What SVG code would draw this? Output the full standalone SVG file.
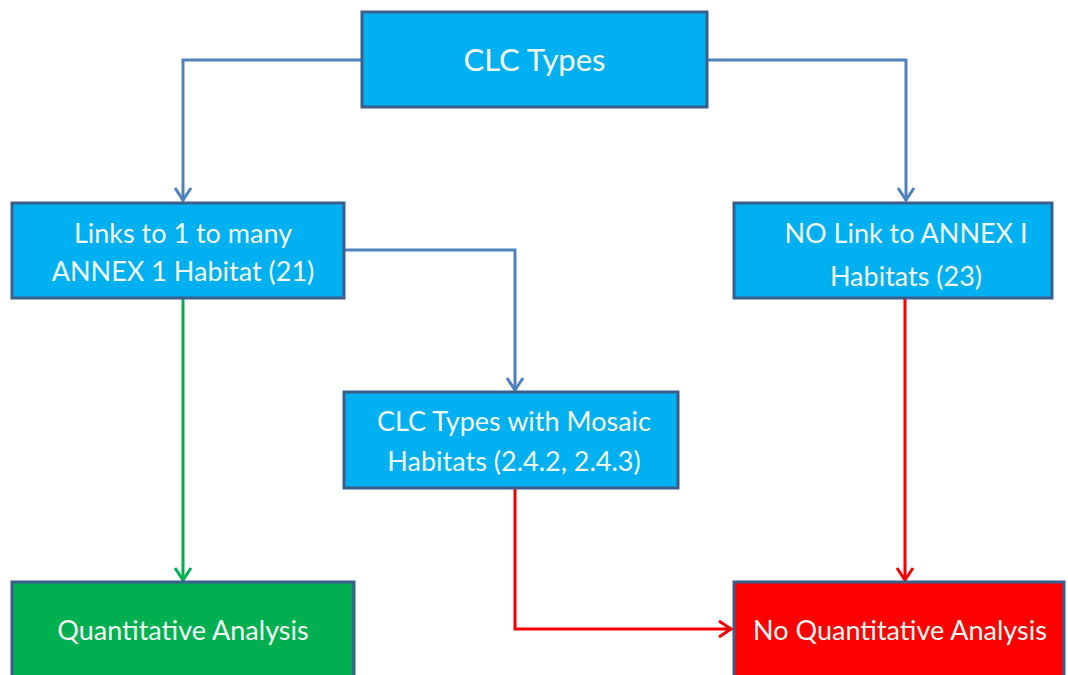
<svg xmlns="http://www.w3.org/2000/svg" width="1068" height="675" viewBox="0 0 1068 675">
  <style>
    .box { stroke: #3B5E8C; stroke-width: 3; }
    .blue { fill: #00B0F0; }
    .green { fill: #00B050; }
    .red { fill: #FF0000; }
    .lbl { font-family: Lato, "Open Sans", "Liberation Sans", sans-serif; font-size: 27px; fill: #F2F8F2; text-anchor: middle; }
    .big { font-size: 31px; }
    .conn { fill: none; stroke-width: 3; }
    .c-blue { stroke: #4F81BD; }
    .c-green { stroke: #00B050; }
    .c-red { stroke: #F00000; }
  </style>
  <defs>
    <marker id="ah-blue" viewBox="0 0 16 20" refX="15" refY="10" markerWidth="16" markerHeight="20" markerUnits="userSpaceOnUse" orient="auto">
      <path d="M2,2 L14,10 L2,18" fill="none" stroke="#4F81BD" stroke-width="3"/>
    </marker>
    <marker id="ah-green" viewBox="0 0 16 20" refX="15" refY="10" markerWidth="16" markerHeight="20" markerUnits="userSpaceOnUse" orient="auto">
      <path d="M2,2 L14,10 L2,18" fill="none" stroke="#00B050" stroke-width="3"/>
    </marker>
    <marker id="ah-red" viewBox="0 0 16 20" refX="15" refY="10" markerWidth="16" markerHeight="20" markerUnits="userSpaceOnUse" orient="auto">
      <path d="M2,2 L14,10 L2,18" fill="none" stroke="#F00000" stroke-width="3"/>
    </marker>
  </defs>
  <rect width="1068" height="675" fill="#FFFFFF"/>

  <!-- connectors -->
  <g id="connectors">
    <path class="conn c-blue" d="M362,60 H183 V201" marker-end="url(#ah-blue)"/>
    <path class="conn c-blue" d="M707,60 H906 V201" marker-end="url(#ah-blue)"/>
    <path class="conn c-blue" d="M344,250 H515 V391" marker-end="url(#ah-blue)"/>
    <path class="conn c-green" d="M183,298 V581" marker-end="url(#ah-green)"/>
    <path class="conn c-red" d="M905,298 V581" marker-end="url(#ah-red)"/>
    <path class="conn c-red" d="M515,488 V629 H732" marker-end="url(#ah-red)"/>
  </g>

  <!-- nodes -->
  <g id="clc-types">
    <rect class="box blue" x="362" y="12" width="345" height="95"/>
    <text class="lbl big" x="534.5" y="71">CLC Types</text>
  </g>
  <g id="links-annex">
    <rect class="box blue" x="12" y="203" width="332" height="95"/>
    <text class="lbl" x="183" y="243">Links to 1 to many</text>
    <text class="lbl" x="183" y="281">ANNEX 1 Habitat (21)</text>
  </g>
  <g id="no-link-annex">
    <rect class="box blue" x="734" y="203" width="318" height="95"/>
    <text class="lbl" x="906" y="243">NO Link to ANNEX I</text>
    <text class="lbl" x="906" y="286">Habitats (23)</text>
  </g>
  <g id="mosaic">
    <rect class="box blue" x="344" y="392" width="334" height="96"/>
    <text class="lbl" x="514" y="431">CLC Types with Mosaic</text>
    <text class="lbl" x="514" y="471">Habitats (2.4.2, 2.4.3)</text>
  </g>
  <g id="quantitative">
    <rect class="box green" x="12" y="582" width="342" height="100"/>
    <text class="lbl" x="183" y="640">Quantitative Analysis</text>
  </g>
  <g id="no-quantitative">
    <rect class="box red" x="734" y="582" width="330" height="100"/>
    <text class="lbl" x="900" y="640">No Quantitative Analysis</text>
  </g>
</svg>
